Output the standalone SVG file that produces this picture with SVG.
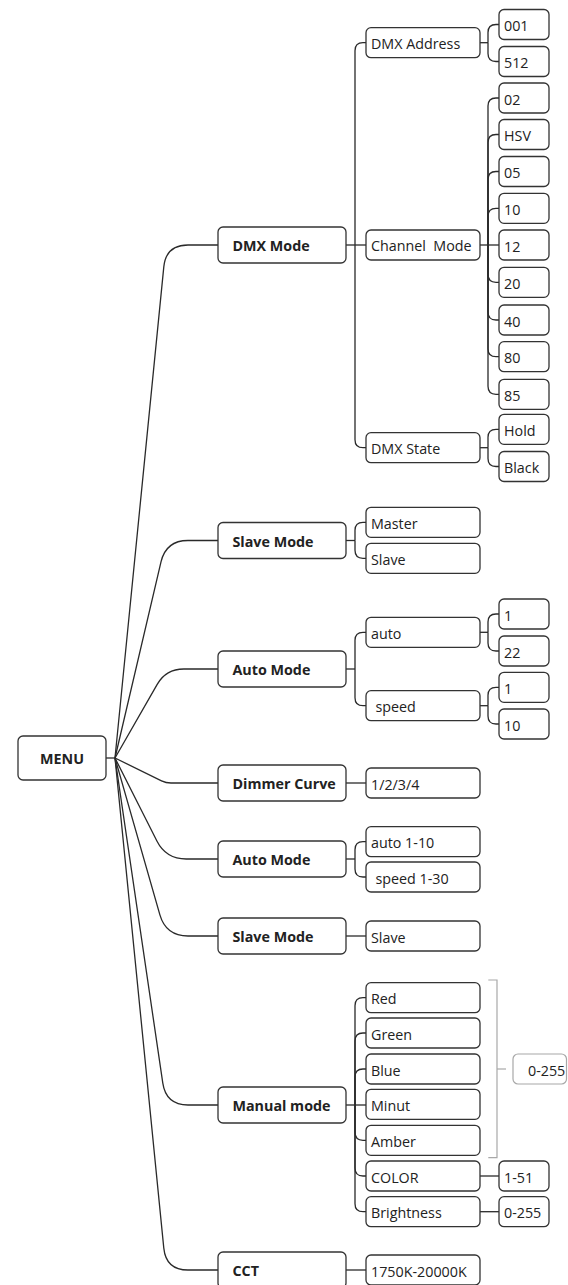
<svg xmlns="http://www.w3.org/2000/svg" width="568" height="1285" viewBox="0 0 568 1285">
<style>
.c{fill:none;stroke:#2a2a2a;stroke-width:1.3}
.b{fill:#fff;stroke:#333;stroke-width:1.3}
.g{fill:#fff;stroke:#a8a8a8;stroke-width:1.2}
.gl{fill:none;stroke:#a8a8a8;stroke-width:1.2}
text{font-family:"Open Sans","Noto Sans",sans-serif;font-size:14.3px;fill:#222}
.t{font-weight:bold}
</style>
<rect width="568" height="1285" fill="#fff"/>
<g id="connectors">
<path class="c" d="M106,758 H115" stroke-width="2"/>
<path class="c" d="M115,758 L163.8,266.9 Q166,245 188,245 H218"/>
<path class="c" d="M115,758 L161,561.9 Q166,540.5 188,540.5 H218"/>
<path class="c" d="M115,758 L157.2,684.4 Q166,669 183.8,669 H218"/>
<path class="c" d="M115,758 L161.5,780.8 Q166,783 171,783 H218"/>
<path class="c" d="M115,758 L156.9,841 Q166,859 186.2,859 H218"/>
<path class="c" d="M115,758 L159.9,914.9 Q166,936 188,936 H218"/>
<path class="c" d="M115,758 L162.8,1083.2 Q166,1105 188,1105 H218"/>
<path class="c" d="M115,758 L163.8,1248.1 Q166,1270 188,1270 H218"/>
<!-- DMX Mode children -->
<path class="c" d="M346,245 H366"/>
<path class="c" d="M355,245 V50.7 Q355,42.7 363,42.7 H366"/>
<path class="c" d="M355,245 V439.7 Q355,447.7 363,447.7 H366"/>
<!-- DMX Address children -->
<path class="c" d="M480,42.7 H488"/>
<path class="c" d="M488,42.7 V32.5 Q488,24.5 496,24.5 H499"/>
<path class="c" d="M488,42.7 V53.5 Q488,61.5 496,61.5 H499"/>
<!-- Channel Mode children -->
<path class="c" d="M480,245 H499"/>
<path class="c" d="M488,245 V106 Q488,98 496,98 H499"/>
<path class="c" d="M488,245 V142.5 Q488,134.5 496,134.5 H499"/>
<path class="c" d="M488,245 V179.5 Q488,171.5 496,171.5 H499"/>
<path class="c" d="M488,245 V216.3 Q488,208.3 496,208.3 H499"/>
<path class="c" d="M488,245 V274.3 Q488,282.3 496,282.3 H499"/>
<path class="c" d="M488,245 V312 Q488,320 496,320 H499"/>
<path class="c" d="M488,245 V348.7 Q488,356.7 496,356.7 H499"/>
<path class="c" d="M488,245 V386.3 Q488,394.3 496,394.3 H499"/>
<!-- DMX State children -->
<path class="c" d="M480,447.7 H488"/>
<path class="c" d="M488,447.7 V437.3 Q488,429.3 496,429.3 H499"/>
<path class="c" d="M488,447.7 V458.5 Q488,466.5 496,466.5 H499"/>
<!-- Slave Mode children -->
<path class="c" d="M346,540.5 H355"/>
<path class="c" d="M355,540.5 V530.3 Q355,522.3 363,522.3 H366"/>
<path class="c" d="M355,540.5 V550.3 Q355,558.3 363,558.3 H366"/>
<!-- Auto Mode children -->
<path class="c" d="M346,669 H355"/>
<path class="c" d="M355,669 V640.3 Q355,632.3 363,632.3 H366"/>
<path class="c" d="M355,669 V697.7 Q355,705.7 363,705.7 H366"/>
<path class="c" d="M480,632.3 H488"/>
<path class="c" d="M488,632.3 V622 Q488,614 496,614 H499"/>
<path class="c" d="M488,632.3 V643 Q488,651 496,651 H499"/>
<path class="c" d="M480,705.7 H488"/>
<path class="c" d="M488,705.7 V695.3 Q488,687.3 496,687.3 H499"/>
<path class="c" d="M488,705.7 V716 Q488,724 496,724 H499"/>
<!-- Dimmer -->
<path class="c" d="M346,783 H366"/>
<!-- Auto Mode 2 -->
<path class="c" d="M346,859 H355"/>
<path class="c" d="M355,859 V849.7 Q355,841.7 363,841.7 H366"/>
<path class="c" d="M355,859 V869 Q355,877 363,877 H366"/>
<!-- Slave Mode 2 -->
<path class="c" d="M346,936 H366"/>
<!-- Manual mode -->
<path class="c" d="M346,1105 H366"/>
<path class="c" d="M355,1105 V1005.7 Q355,997.7 363,997.7 H366"/>
<path class="c" d="M355,1105 V1041 Q355,1033 363,1033 H366"/>
<path class="c" d="M355,1105 V1077 Q355,1069 363,1069 H366"/>
<path class="c" d="M355,1105 V1132.3 Q355,1140.3 363,1140.3 H366"/>
<path class="c" d="M355,1105 V1168 Q355,1176 363,1176 H366"/>
<path class="c" d="M355,1105 V1203.7 Q355,1211.7 363,1211.7 H366"/>
<path class="c" d="M480,1176 H499"/>
<path class="c" d="M480,1211.7 H499"/>
<!-- CCT -->
<path class="c" d="M346,1270 H366"/>
<!-- summary bracket -->
<path class="gl" d="M488.3,980 H497 V1157.7 H488.3"/>
<path class="gl" d="M497,1069 H506"/>
</g>
<g id="n-menu"><rect class="b" x="18" y="736" width="88" height="44" rx="5"/><text class="t" x="62" y="764" text-anchor="middle">MENU</text></g>
<g id="n-dmxmode"><rect class="b" x="218" y="227" width="128" height="36" rx="5"/><text class="t" x="232.5" y="251">DMX Mode</text></g>
<g id="n-dmxaddr"><rect class="b" x="366" y="27.7" width="114" height="30" rx="5"/><text x="371" y="49">DMX Address</text></g>
<g id="n-001"><rect class="b" x="499" y="9.5" width="50" height="30" rx="5"/><text x="504" y="31">001</text></g>
<g id="n-512"><rect class="b" x="499" y="46.5" width="50" height="30" rx="5"/><text x="504" y="68">512</text></g>
<g id="n-chmode"><rect class="b" x="366" y="230" width="114" height="30" rx="5"/><text x="371" y="251" xml:space="preserve">Channel  Mode</text></g>
<g id="n-02"><rect class="b" x="499" y="83" width="50" height="30" rx="5"/><text x="504" y="104.5">02</text></g>
<g id="n-hsv"><rect class="b" x="499" y="119.5" width="50" height="30" rx="5"/><text x="504" y="141">HSV</text></g>
<g id="n-05"><rect class="b" x="499" y="156.5" width="50" height="30" rx="5"/><text x="504" y="178">05</text></g>
<g id="n-10"><rect class="b" x="499" y="193.3" width="50" height="30" rx="5"/><text x="504" y="214.8">10</text></g>
<g id="n-12"><rect class="b" x="499" y="230" width="50" height="30" rx="5"/><text x="504" y="251.5">12</text></g>
<g id="n-20"><rect class="b" x="499" y="267.3" width="50" height="30" rx="5"/><text x="504" y="288.8">20</text></g>
<g id="n-40"><rect class="b" x="499" y="305" width="50" height="30" rx="5"/><text x="504" y="326.5">40</text></g>
<g id="n-80"><rect class="b" x="499" y="341.7" width="50" height="30" rx="5"/><text x="504" y="363.2">80</text></g>
<g id="n-85"><rect class="b" x="499" y="379.3" width="50" height="30" rx="5"/><text x="504" y="400.8">85</text></g>
<g id="n-dmxstate"><rect class="b" x="366" y="432.7" width="114" height="30" rx="5"/><text x="371" y="454">DMX State</text></g>
<g id="n-hold"><rect class="b" x="499" y="414.3" width="50" height="30" rx="5"/><text x="504" y="435.8">Hold</text></g>
<g id="n-black"><rect class="b" x="499" y="451.5" width="50" height="30" rx="5"/><text x="504" y="473">Black</text></g>
<g id="n-slavemode"><rect class="b" x="218" y="522.5" width="128" height="36" rx="5"/><text class="t" x="232.5" y="546.5">Slave Mode</text></g>
<g id="n-master"><rect class="b" x="366" y="507.3" width="114" height="30" rx="5"/><text x="371" y="528.8">Master</text></g>
<g id="n-slave"><rect class="b" x="366" y="543.3" width="114" height="30" rx="5"/><text x="371" y="564.8">Slave</text></g>
<g id="n-automode"><rect class="b" x="218" y="651" width="128" height="36" rx="5"/><text class="t" x="232.5" y="675">Auto Mode</text></g>
<g id="n-auto"><rect class="b" x="366" y="617.3" width="114" height="30" rx="5"/><text x="371" y="638.8">auto</text></g>
<g id="n-auto-1"><rect class="b" x="499" y="599" width="50" height="30" rx="5"/><text x="504" y="620.5">1</text></g>
<g id="n-auto-22"><rect class="b" x="499" y="636" width="50" height="30" rx="5"/><text x="504" y="657.5">22</text></g>
<g id="n-speed"><rect class="b" x="366" y="690.7" width="114" height="30" rx="5"/><text x="375.5" y="712.2">speed</text></g>
<g id="n-speed-1"><rect class="b" x="499" y="672.3" width="50" height="30" rx="5"/><text x="504" y="693.8">1</text></g>
<g id="n-speed-10"><rect class="b" x="499" y="709" width="50" height="30" rx="5"/><text x="504" y="730.5">10</text></g>
<g id="n-dimmer"><rect class="b" x="218" y="765" width="128" height="36" rx="5"/><text class="t" x="232.5" y="789">Dimmer Curve</text></g>
<g id="n-1234"><rect class="b" x="366" y="768" width="114" height="30" rx="5"/><text x="371" y="789.5">1/2/3/4</text></g>
<g id="n-automode2"><rect class="b" x="218" y="841" width="128" height="36" rx="5"/><text class="t" x="232.5" y="865">Auto Mode</text></g>
<g id="n-auto110"><rect class="b" x="366" y="826.7" width="114" height="30" rx="5"/><text x="371" y="848.2">auto 1-10</text></g>
<g id="n-speed130"><rect class="b" x="366" y="862" width="114" height="30" rx="5"/><text x="375.5" y="883.5">speed 1-30</text></g>
<g id="n-slavemode2"><rect class="b" x="218" y="918" width="128" height="36" rx="5"/><text class="t" x="232.5" y="942">Slave Mode</text></g>
<g id="n-slave2"><rect class="b" x="366" y="921" width="114" height="30" rx="5"/><text x="371" y="942.5">Slave</text></g>
<g id="n-manual"><rect class="b" x="218" y="1087" width="128" height="36" rx="5"/><text class="t" x="232.5" y="1111">Manual mode</text></g>
<g id="n-red"><rect class="b" x="366" y="982.7" width="114" height="30" rx="5"/><text x="371" y="1004.2">Red</text></g>
<g id="n-green"><rect class="b" x="366" y="1018" width="114" height="30" rx="5"/><text x="371" y="1039.5">Green</text></g>
<g id="n-blue"><rect class="b" x="366" y="1054" width="114" height="30" rx="5"/><text x="371" y="1075.5">Blue</text></g>
<g id="n-minut"><rect class="b" x="366" y="1089.3" width="114" height="30" rx="5"/><text x="371" y="1110.8">Minut</text></g>
<g id="n-amber"><rect class="b" x="366" y="1125.3" width="114" height="30" rx="5"/><text x="371" y="1146.8">Amber</text></g>
<g id="n-color"><rect class="b" x="366" y="1161" width="114" height="30" rx="5"/><text x="371" y="1182.5">COLOR</text></g>
<g id="n-151"><rect class="b" x="499" y="1161" width="50" height="30" rx="5"/><text x="504" y="1182.5">1-51</text></g>
<g id="n-brightness"><rect class="b" x="366" y="1196.7" width="114" height="30" rx="5"/><text x="371" y="1218.2">Brightness</text></g>
<g id="n-0255b"><rect class="b" x="499" y="1196.7" width="50" height="30" rx="5"/><text x="504" y="1218.2">0-255</text></g>
<g id="n-0255"><rect class="g" x="513" y="1054" width="53.5" height="30" rx="5"/><text x="528" y="1075.5">0-255</text></g>
<g id="n-cct"><rect class="b" x="218" y="1252" width="128" height="36" rx="5"/><text class="t" x="232.5" y="1276">CCT</text></g>
<g id="n-cctval"><rect class="b" x="366" y="1255" width="114" height="30" rx="5"/><text x="371" y="1276.5">1750K-20000K</text></g>
</svg>
